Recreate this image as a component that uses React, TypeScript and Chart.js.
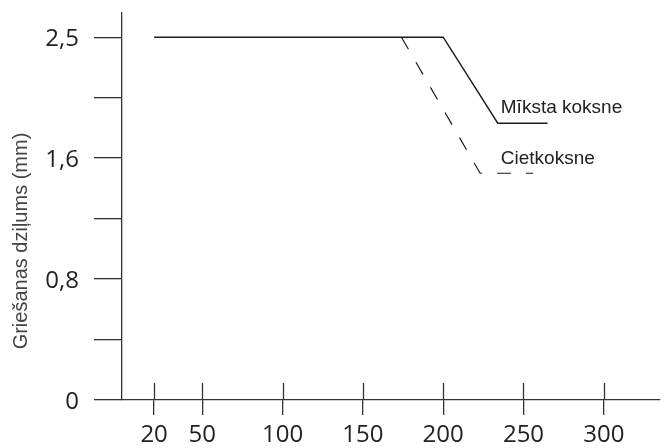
import React, { useEffect, useRef } from "react";
import { Chart, registerables, LinearScale } from "chart.js";

Chart.register(...registerables);

// ---- data ----
const X_TICKS = [20, 50, 100, 150, 200, 250, 300];
const Y_TICK_VALUES = [0, 0.8, 1.6, 2.5];
const Y_TICK_LABELS = ["0", "0,8", "1,6", "2,5"];
const SERIES_NAMES = ["Mīksta koksne", "Cietkoksne"];
const SOFT_X = [20, 200, 234, 265];
const SOFT_Y = [2.5, 2.5, 1.86, 1.86];
const HARD_X = [174, 223, 256];
const HARD_Y = [2.5, 1.5, 1.5];
const Y_TITLE = "Griešanas dziļums (mm)";

// piecewise scale: the reference puts its labelled ticks at equal spacing
function toIdx(v: number): number {
  const B = Y_TICK_VALUES;
  const n = B.length;
  for (let i = 0; i < n - 1; i++) {
    if (v <= B[i + 1] || i === n - 2) {
      return i + (v - B[i]) / (B[i + 1] - B[i]);
    }
  }
  return 0;
}
function fromIdx(idx: number): number {
  const B = Y_TICK_VALUES;
  const n = B.length;
  let i = Math.floor(idx);
  if (i < 0) i = 0;
  if (i > n - 2) i = n - 2;
  return B[i] + (idx - i) * (B[i + 1] - B[i]);
}

class PiecewiseScale extends LinearScale {
  static id = "piecewise";
  static defaults = (LinearScale as any).defaults;
  getPixelForValue(value: number) {
    if (value === null || value === undefined || isNaN(value)) return NaN;
    const self: any = this;
    return self.getPixelForDecimal(toIdx(value) / toIdx(self.max));
  }
  getValueForPixel(pixel: number) {
    const self: any = this;
    return fromIdx(self.getDecimalForPixel(pixel) * toIdx(self.max));
  }
}
Chart.register(PiecewiseScale as any);

const INK = "#222";
const AXIS = "#333";

const decorPlugin = {
  id: "decor",
  afterDraw(chart: any) {
    const ctx = chart.ctx;
    const xs = chart.scales.x;
    const area = chart.chartArea;
    ctx.save();
    // upper halves of the x tick marks (crossing the axis)
    ctx.strokeStyle = AXIS;
    ctx.lineWidth = 1.3;
    xs.ticks.forEach((_t: any, i: number) => {
      const px = Math.round(xs.getPixelForTick(i)) + 0.5;
      ctx.beginPath();
      ctx.moveTo(px, area.bottom - 17);
      ctx.lineTo(px, area.bottom);
      ctx.stroke();
    });
    // y title
    ctx.fillStyle = "#444";
    ctx.font = "20px 'Liberation Sans', Arial, sans-serif";
    ctx.textAlign = "center";
    ctx.textBaseline = "middle";
    ctx.translate(21, 241);
    ctx.rotate(-Math.PI / 2);
    ctx.fillText(Y_TITLE, 0, 0);
    ctx.restore();

    // series labels
    ctx.save();
    ctx.fillStyle = INK;
    ctx.font = "19px 'Liberation Sans', Arial, sans-serif";
    ctx.textAlign = "left";
    ctx.textBaseline = "alphabetic";
    const soft = chart.getDatasetMeta(0).data;
    const hard = chart.getDatasetMeta(1).data;
    const labelX = soft[2].x + 3;
    ctx.fillText(SERIES_NAMES[0], labelX, soft[soft.length - 1].y - 10);
    ctx.fillText(SERIES_NAMES[1], labelX, hard[hard.length - 1].y - 9);
    ctx.restore();
  },
};

export default function App() {
  const ref = useRef<HTMLCanvasElement | null>(null);
  useEffect(() => {
    if (!ref.current) return;
    const chart = new Chart(ref.current, {
      type: "line",
      data: {
        datasets: [
          {
            label: SERIES_NAMES[0],
            data: SOFT_X.map((x, i) => ({ x, y: SOFT_Y[i] })),
            borderColor: "#1a1a1a",
            borderWidth: 1.4,
            pointRadius: 0,
            tension: 0,
          },
          {
            label: SERIES_NAMES[1],
            data: HARD_X.map((x, i) => ({ x, y: HARD_Y[i] })),
            borderColor: "#1a1a1a",
            borderWidth: 1.2,
            borderDash: [14, 15],
            pointRadius: 0,
            tension: 0,
          },
        ],
      },
      options: {
        animation: false,
        responsive: false,
        maintainAspectRatio: false,
        layout: { padding: { left: 0, top: 13, right: 6, bottom: 0 } },
        plugins: { legend: { display: false }, tooltip: { enabled: false } },
        scales: {
          x: {
            type: "linear",
            min: 0,
            max: 335,
            afterBuildTicks: (s: any) => {
              s.ticks = X_TICKS.map((v) => ({ value: v }));
            },
            afterFit: (s: any) => {
              s.height = 48;
              s.paddingLeft = 0;
              s.paddingRight = 0;
            },
            grid: {
              drawOnChartArea: false,
              drawTicks: true,
              tickLength: 15,
              color: AXIS,
              lineWidth: 1.3,
            },
            border: { display: true, color: AXIS, width: 1.3 },
            ticks: {
              autoSkip: false,
              maxRotation: 0,
              padding: 6,
              color: INK,
              font: { family: "'Open Sans'", size: 24 },
              callback: (v: any) => String(v),
            },
          },
          y: {
            type: "piecewise" as any,
            min: 0,
            max: 2.68,
            afterBuildTicks: (s: any) => {
              const vals = [
                Y_TICK_VALUES[0],
                fromIdx(0.5),
                Y_TICK_VALUES[1],
                fromIdx(1.5),
                Y_TICK_VALUES[2],
                fromIdx(2.5),
                Y_TICK_VALUES[3],
              ];
              s.ticks = vals.map((v) => ({ value: v }));
            },
            afterFit: (s: any) => {
              s.width = 122;
              s.paddingTop = 0;
              s.paddingBottom = 0;
            },
            grid: {
              drawOnChartArea: false,
              drawTicks: true,
              tickLength: 28,
              color: AXIS,
              lineWidth: 1.3,
            },
            border: { display: true, color: AXIS, width: 1.3 },
            ticks: {
              autoSkip: false,
              padding: 15,
              labelOffset: 2,
              color: INK,
              font: { family: "'Open Sans'", size: 24 },
              callback: (v: any) => {
                const i = Y_TICK_VALUES.findIndex((t) => Math.abs(t - Number(v)) < 1e-9);
                return i >= 0 ? Y_TICK_LABELS[i] : "";
              },
            },
          },
        } as any,
      },
      plugins: [decorPlugin],
    });
    return () => chart.destroy();
  }, []);
  return (
    <div style={{ position: "fixed", left: 0, top: 0, width: 666, height: 448, background: "#fff" }}>
      <canvas ref={ref} width={666} height={448} style={{ display: "block" }} />
    </div>
  );
}
